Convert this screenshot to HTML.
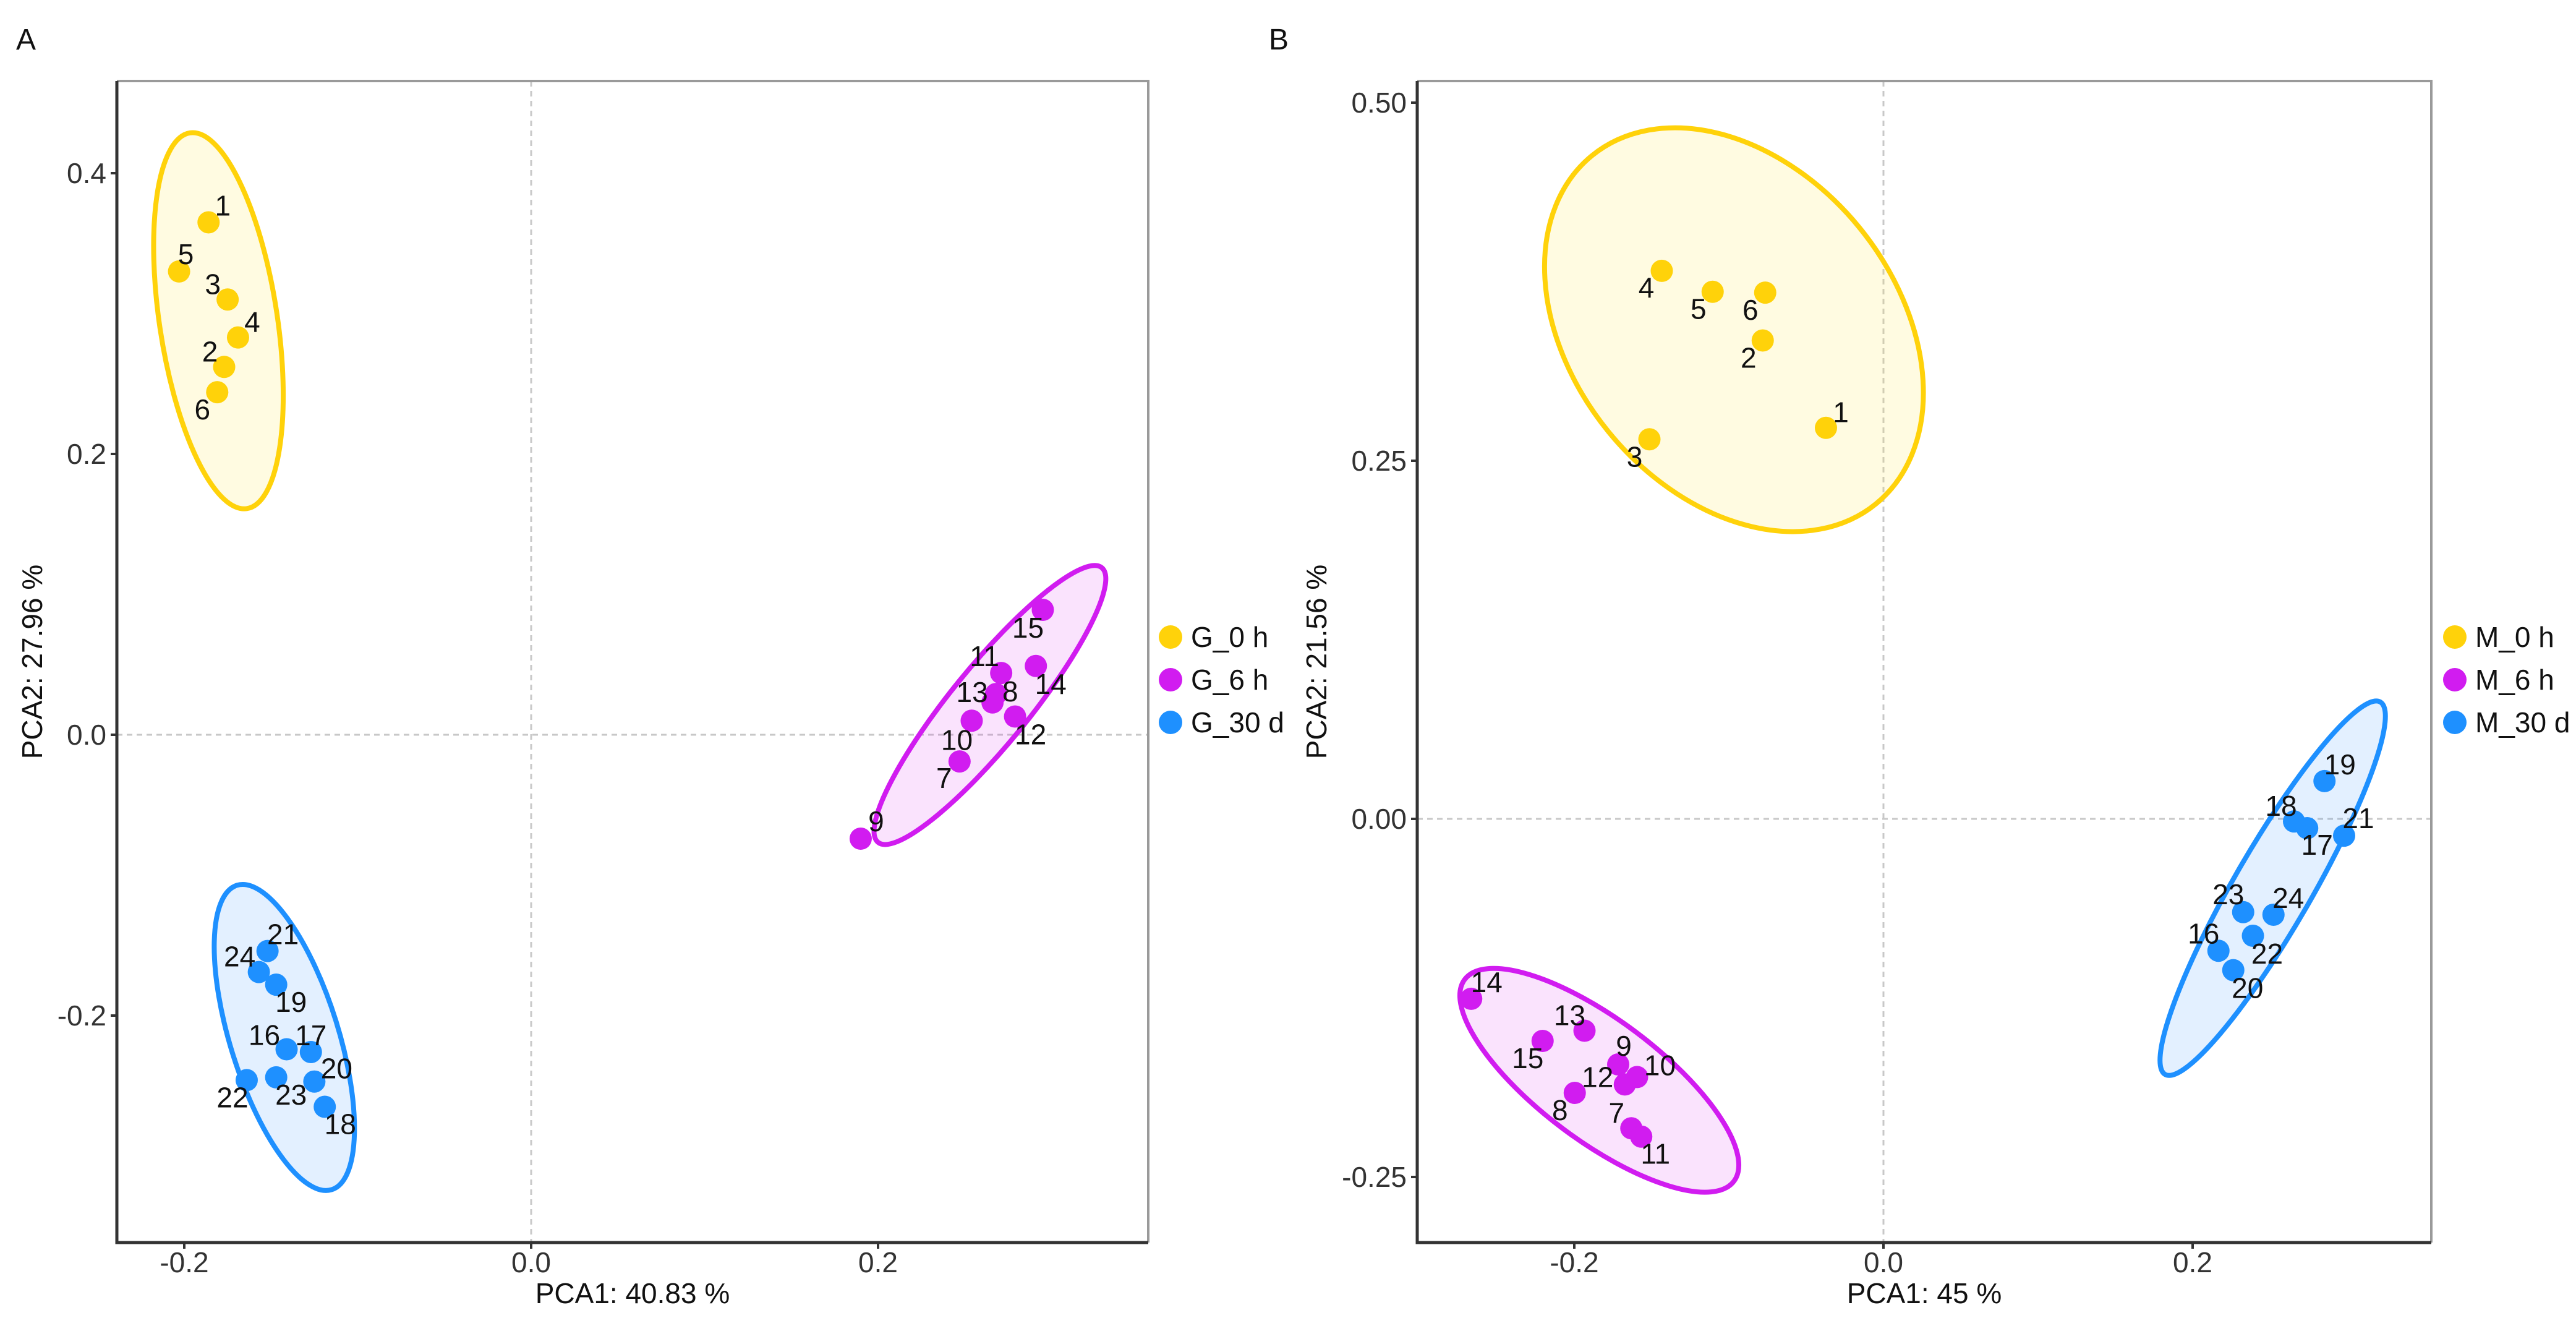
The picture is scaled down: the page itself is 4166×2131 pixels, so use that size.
<!DOCTYPE html>
<html><head><meta charset="utf-8">
<style>
html,body{margin:0;padding:0;background:#fff;}
svg{display:block;font-family:"Liberation Sans",Arial,sans-serif;}
</style></head>
<body>
<svg id="chart" width="4166" height="2131" viewBox="0 0 4166 2131" xmlns="http://www.w3.org/2000/svg">
<rect width="4166" height="2131" fill="#fff"/>
</svg>
<script>
// ---------- Panel A data ----------
const aGroups = ["G_0 h","G_6 h","G_30 d"];
const aIds0 = [1,5,3,4,2,6];
const aX0 = [-0.186,-0.203,-0.175,-0.169,-0.177,-0.181];
const aY0 = [0.365,0.330,0.310,0.283,0.262,0.244];
const aIds1 = [15,11,14,13,8,12,10,7,9];
const aX1 = [0.295,0.271,0.291,0.266,0.268,0.279,0.254,0.247,0.190];
const aY1 = [0.089,0.044,0.049,0.023,0.029,0.013,0.010,-0.019,-0.074];
const aIds2 = [21,24,19,16,17,20,23,22,18];
const aX2 = [-0.152,-0.157,-0.147,-0.141,-0.127,-0.125,-0.147,-0.164,-0.119];
const aY2 = [-0.154,-0.169,-0.178,-0.224,-0.226,-0.247,-0.244,-0.246,-0.265];
const aXTicks = [-0.2,0.0,0.2];
const aXTickLabels = ["-0.2","0.0","0.2"];
const aYTicks = [0.4,0.2,0.0,-0.2];
const aYTickLabels = ["0.4","0.2","0.0","-0.2"];
const aEllX = [[-0.1967,-0.1639],[0.329,0.200],[-0.1696,-0.115]];
const aEllY = [[0.4287,0.1611],[0.119,-0.0766],[-0.1072,-0.324]];
const aEllRatio = [0.31,0.22,0.34];
const aOff0 = [[23,-27],[11,-28],[-24,-25],[23,-25],[-23,-25],[-24,28]];
const aOff1 = [[-24,29],[-27,-27],[24,29],[-33,-17],[23,-4],[25,29],[-24,31],[-25,27],[25,-28]];
const aOff2 = [[25,-27],[-31,-25],[24,28],[-36,-23],[0,-27],[36,-21],[24,28],[-23,28],[25,28]];

// ---------- Panel B data ----------
const bGroups = ["M_0 h","M_6 h","M_30 d"];
const bIds0 = [4,5,6,2,1,3];
const bX0 = [-0.1434,-0.1105,-0.0765,-0.0781,-0.0372,-0.1514];
const bY0 = [0.3826,0.368,0.3674,0.334,0.273,0.265];
const bIds1 = [14,13,15,9,10,12,8,7,11];
const bX1 = [-0.2667,-0.1934,-0.2205,-0.1716,-0.1594,-0.1673,-0.1997,-0.1631,-0.1567];
const bY1 = [-0.1256,-0.1479,-0.155,-0.1714,-0.1802,-0.1854,-0.1913,-0.216,-0.2218];
const bIds2 = [19,18,17,21,23,24,22,16,20];
const bX2 = [0.2853,0.2656,0.2741,0.298,0.2327,0.2523,0.239,0.2167,0.2263];
const bY2 = [0.0264,-0.0018,-0.0065,-0.0117,-0.0651,-0.0669,-0.0816,-0.0921,-0.1056];
const bXTicks = [-0.2,0.0,0.2];
const bXTickLabels = ["-0.2","0.0","0.2"];
const bYTicks = [0.5,0.25,0.0,-0.25];
const bYTickLabels = ["0.50","0.25","0.00","-0.25"];
const bEllX = [[-0.1886,-0.0048],[-0.2709,-0.0967],[0.3214,0.1822]];
const bEllY = [[0.4630,0.2200],[-0.1121,-0.2529],[0.0816,-0.1784]];
const bEllRatio = [0.72,0.36,0.18];
const bOff0 = [[-25,27],[-23,28],[-24,28],[-23,28],[24,-25],[-24,28]];
const bOff1 = [[25,-27],[-24,-25],[-24,28],[9,-30],[37,-19],[-44,-12],[-24,28],[-24,-25],[23,28]];
const bOff2 = [[25,-27],[-21,-25],[16,27],[23,-28],[-24,-29],[24,-27],[23,29],[-24,-28],[23,29]];

const colors = ["#FFD20A","#D11CF0","#1E90FF"];
const fills = ["rgba(255,230,80,0.17)","rgba(215,40,240,0.13)","rgba(40,140,255,0.13)"];

const NS = "http://www.w3.org/2000/svg";
const svg = document.getElementById("chart");
function mk(tag, attrs, parent){
  const e = document.createElementNS(NS, tag);
  for (const k in attrs) e.setAttribute(k, attrs[k]);
  (parent||svg).appendChild(e);
  return e;
}
function linScale(d0,d1,r0,r1){ return v => r0 + (v-d0)/(d1-d0)*(r1-r0); }

function drawPanel(cfg){
  const g = mk("g",{});
  
  
  const {L,R,T,B,sx,sy} = cfg;
  const gx = mk("line",{x1:sx(0),x2:sx(0),y1:T,y2:B,stroke:"#c8c8c8","stroke-width":3,"stroke-dasharray":"9,7"},g);
  
  
  const gy = mk("line",{x1:L,x2:R,y1:sy(0),y2:sy(0),stroke:"#c8c8c8","stroke-width":3,"stroke-dasharray":"9,7"},g);
  
  
  for (let i=0;i<3;i++){
    const x1=sx(cfg.ellX[i][0]), y1=sy(cfg.ellY[i][0]), x2=sx(cfg.ellX[i][1]), y2=sy(cfg.ellY[i][1]);
    const cx=(x1+x2)/2, cy=(y1+y2)/2;
    const a=Math.hypot(x2-x1,y2-y1)/2;
    const ang=Math.atan2(y2-y1,x2-x1)*180/Math.PI;
    const el = mk("ellipse",{cx:cx,cy:cy,rx:a,ry:a*cfg.ellRatio[i],transform:`rotate(${ang} ${cx} ${cy})`,fill:fills[i],stroke:colors[i],"stroke-width":8},g);
    
    
  }
  for (let gi=0;gi<3;gi++){
    const xs=cfg.xs[gi], ys=cfg.ys[gi], ids=cfg.ids[gi];
    for (let j=0;j<xs.length;j++){
      const c = mk("circle",{cx:sx(xs[j]),cy:sy(ys[j]),r:18,fill:colors[gi]},g);
      
      
    }
  }
  for (let gi=0;gi<3;gi++){
    const xs=cfg.xs[gi], ys=cfg.ys[gi], ids=cfg.ids[gi], off=cfg.offs[gi];
    for (let j=0;j<xs.length;j++){
      const t = mk("text",{x:sx(xs[j])+off[j][0],y:sy(ys[j])+off[j][1],"font-size":46,"text-anchor":"middle","dominant-baseline":"central",fill:"#111"},g);
      t.textContent = ids[j];
      
      
    }
  }
  const fr = mk("path",{d:`M${L},${T} H${R} V${B}`,fill:"none",stroke:"#9a9a9a","stroke-width":4},g);
  
  
  const ax = mk("path",{d:`M${L},${T} V${B} H${R}`,fill:"none",stroke:"#333","stroke-width":5},g);
  
  
  cfg.xTicks.forEach((v,i)=>{
    const tk = mk("line",{x1:sx(v),x2:sx(v),y1:B,y2:B+10,stroke:"#333","stroke-width":4},g);
    
    
    const t = mk("text",{x:sx(v),y:2057,"font-size":46,"text-anchor":"middle",fill:"#333"},g);
    t.textContent = cfg.xTickLabels[i];
    
    
  });
  cfg.yTicks.forEach((v,i)=>{
    const tk = mk("line",{x1:L-10,x2:L,y1:sy(v),y2:sy(v),stroke:"#333","stroke-width":4},g);
    
    
    const t = mk("text",{x:L-17,y:sy(v)+16,"font-size":46,"text-anchor":"end",fill:"#333"},g);
    t.textContent = cfg.yTickLabels[i];
    
    
  });
  const xt = mk("text",{x:(L+R)/2,y:2107,"font-size":46,"text-anchor":"middle",fill:"#111"},g);
  xt.textContent = cfg.xTitle;
  
  
  const yt = mk("text",{x:0,y:0,"font-size":46,"text-anchor":"middle",fill:"#111",transform:`translate(${cfg.yTitleX},${(T+B)/2}) rotate(-90)`},g);
  yt.textContent = cfg.yTitle;
  
  
  for (let i=0;i<3;i++){
    const ly = 1030 + i*69;
    const d = mk("circle",{cx:cfg.legX,cy:ly,r:19,fill:colors[i]},g);
    
    
    const t = mk("text",{x:cfg.legX+33,y:ly+16,"font-size":46,fill:"#111"},g);
    t.textContent = cfg.groups[i];
    
    
  }
  const pl = mk("text",{x:cfg.letterX,y:80,"font-size":48,"text-anchor":"middle",fill:"#111"},g);
  pl.textContent = cfg.letter;
  
  
}

drawPanel({
  name:"panel-a", letter:"A", letterX:42,
  L:189,R:1857,T:131,B:2009,
  sx:linScale(0,0.2,859,1420), sy:linScale(0,0.2,1188,734),
  groups:aGroups, xs:[aX0,aX1,aX2], ys:[aY0,aY1,aY2], ids:[aIds0,aIds1,aIds2], offs:[aOff0,aOff1,aOff2],
  ellX:aEllX, ellY:aEllY, ellRatio:aEllRatio,
  xTicks:aXTicks, xTickLabels:aXTickLabels, yTicks:aYTicks, yTickLabels:aYTickLabels,
  xTitle:"PCA1: 40.83 %", yTitle:"PCA2: 27.96 %", yTitleX:68, legX:1893
});
drawPanel({
  name:"panel-b", letter:"B", letterX:2068,
  L:2292,R:3932,T:131,B:2009,
  sx:linScale(0,0.2,3046,3546), sy:linScale(0,0.25,1324,745),
  groups:bGroups, xs:[bX0,bX1,bX2], ys:[bY0,bY1,bY2], ids:[bIds0,bIds1,bIds2], offs:[bOff0,bOff1,bOff2],
  ellX:bEllX, ellY:bEllY, ellRatio:bEllRatio,
  xTicks:bXTicks, xTickLabels:bXTickLabels, yTicks:bYTicks, yTickLabels:bYTickLabels,
  xTitle:"PCA1: 45 %", yTitle:"PCA2: 21.56 %", yTitleX:2145, legX:3970
});
</script>
</body></html>
